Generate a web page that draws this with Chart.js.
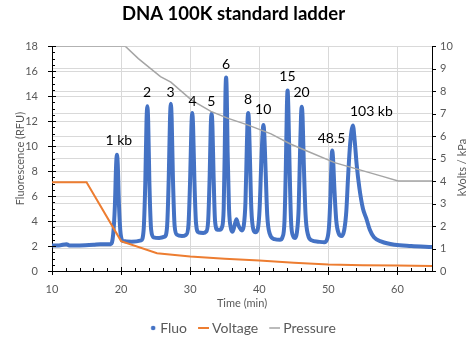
<!DOCTYPE html>
<html><head><meta charset="utf-8">
<script src="https://cdn.jsdelivr.net/npm/chart.js@4"></script>
<style>html,body{margin:0;padding:0;background:#fff}#wrap{width:467px;height:341px}</style>
</head><body><div id="wrap"><canvas id="c" width="467" height="341"></canvas></div>
<script>
// ---- data ----
const fluoTime = [10,11,12.1,12.5,14,16,17,18,
  18.5,18.85,19.1,19.28,19.4,19.52,19.7,19.95,20.3,21.5,
  22.9,23.25,23.5,23.68,23.8,23.92,24.1,24.35,24.7,25.5,
  26.3,26.65,26.9,27.08,27.2,27.32,27.5,27.75,28.1,28.8,
  29.4,29.75,30.0,30.18,30.3,30.42,30.6,30.85,31.2,31.9,
  32.3,32.6,32.83,32.98,33.1,33.22,33.38,33.6,33.95,34.3,
  34.6,34.85,35.0,35.1,35.2,35.3,35.42,35.62,35.9,36.15,36.45,36.7,36.95,37.5,
  37.75,38.0,38.18,38.3,38.4,38.5,38.65,38.85,39.15,39.45,
  39.8,40.05,40.28,40.48,40.6,40.72,40.92,41.15,41.5,42.2,43.0,
  43.35,43.65,43.85,44.0,44.1,44.2,44.38,44.6,44.9,45.2,
  45.45,45.7,45.9,46.05,46.15,46.27,46.45,46.7,47.05,47.6,48.5,49.4,
  49.85,50.1,50.3,50.45,50.55,50.68,50.88,51.15,51.5,51.9,
  52.3,52.6,52.85,53.1,53.35,53.55,53.8,54.1,54.5,55.0,55.5,56.0,56.6,57.7,59.6,62,65];
const fluoValue = [2.05,2.05,2.15,2.05,2.05,2.1,2.15,2.15,
  2.15,2.9,5.2,8.5,9.3,8.5,5.2,2.9,2.4,2.35,
  2.45,3.2,7.0,12.0,13.2,12.0,7.0,3.3,2.7,2.65,
  2.75,3.5,7.5,12.2,13.4,12.2,7.5,3.6,2.9,2.8,
  2.9,3.7,7.5,11.6,12.65,11.6,7.5,3.8,3.1,3.05,
  3.15,4.0,7.8,11.6,12.6,11.6,7.8,4.0,3.3,3.3,
  3.5,5.0,9.5,14.0,15.5,14.0,9.5,5.0,3.4,3.15,3.7,4.15,3.7,3.25,
  3.6,5.5,9.5,12.0,12.65,12.0,9.0,5.0,3.3,3.1,
  3.4,5.0,8.5,11.0,11.7,11.0,8.0,4.5,3.0,2.55,2.5,
  2.7,4.0,8.5,13.2,14.45,13.2,8.5,4.0,2.8,2.65,
  3.1,5.0,9.5,12.5,13.15,12.3,8.5,4.5,2.9,2.45,2.35,2.3,
  2.6,3.6,6.0,8.8,9.65,9.0,6.5,4.0,3.0,2.8,
  3.3,4.8,7.5,9.8,11.2,11.65,10.5,8.5,6.6,5.0,4.2,3.3,2.7,2.35,2.1,2.0,1.92];
const voltTime  = [10,15,20,25.2,30,35,40,45,50,55,60,65];
const voltValue = [3.95,3.95,1.33,0.79,0.64,0.55,0.47,0.37,0.29,0.26,0.24,0.22];
const presTime  = [10,20.6,22.5,25.7,27.2,30.2,33,35.4,38.3,41.7,44.5,47.5,50.9,54.3,57.7,60.1,65];
const presValue = [10,10,9.45,8.65,8.4,7.6,7.1,6.8,6.5,6.1,5.65,5.26,4.82,4.52,4.22,4.0,4.0];
const peakLabels = ['1 kb','2','3','4','5','6','8','10','15','20','48.5','103 kb'];
const labelTime  = [19.67,23.76,27.15,30.35,33.07,35.19,38.39,40.57,44.08,46.12,50.45,56.22];
const labelLevel = [10.44,14.27,14.27,13.6,13.6,16.55,13.73,12.93,15.56,14.27,10.58,12.8];
const xTicks  = [10,20,30,40,50,60];
const yTicks  = [0,2,4,6,8,10,12,14,16,18];
const y2Ticks = [0,1,2,3,4,5,6,7,8,9,10];

// ---- chart ----
const TXT = '#595959', GRID = '#d9d9d9';
Chart.defaults.font.family = 'Lato, "Open Sans", sans-serif';
const toXY = (t, v) => t.map((x, i) => ({x: x, y: v[i]}));

function icon(kind, color, lw) {
  const c = document.createElement('canvas'); c.width = 18; c.height = 6;
  const g = c.getContext('2d'); g.fillStyle = color;
  if (kind === 'dot') { g.beginPath(); g.arc(14, 3, 2.3, 0, Math.PI * 2); g.fill(); }
  else { g.fillRect(7, 3 - lw / 2, 11, lw); }
  return c;
}

const legendShift = {
  id: 'legendShift',
  afterLayout(chart) {
    const L = chart.legend; if (!L) return;
    L.left += 6; L.right += 6; L.top += 4; L.bottom += 4;
  }
};

const tickMarks = {
  id: 'tickMarks',
  afterDraw(chart) {
    const {ctx, chartArea: a} = chart; const {x, y, y2} = chart.scales;
    ctx.save(); ctx.strokeStyle = '#000'; ctx.lineWidth = 1; ctx.beginPath();
    for (let v = 0; v <= 18.001; v += 0.5) {
      const p = Math.round(y.getPixelForValue(v)) + 0.5; const major = Math.abs(v % 2) < 1e-6;
      ctx.moveTo(a.left - (major ? 4 : 0), p); ctx.lineTo(a.left + (major ? 4 : 3), p);
    }
    for (let v = 10; v <= 64.001; v += 2) {
      const p = Math.round(x.getPixelForValue(v)) + 0.5; const major = Math.abs(v % 10) < 1e-6;
      ctx.moveTo(p, a.bottom + (major ? 4 : 0)); ctx.lineTo(p, a.bottom - (major ? 4 : 3));
    }
    for (let v = 0; v <= 10; v += 1) {
      const p = Math.round(y2.getPixelForValue(v)) + 0.5;
      ctx.moveTo(a.right, p); ctx.lineTo(a.right + 4, p);
    }
    ctx.stroke();
    // secondary axis title, reading bottom to top
    ctx.fillStyle = TXT; ctx.font = '11px Lato, "Open Sans", sans-serif';
    ctx.textAlign = 'center'; ctx.textBaseline = 'middle';
    ctx.translate(a.right + 30, (a.top + a.bottom) / 2 + 9); ctx.rotate(-Math.PI / 2);
    ctx.fillText('kVolts / kPa', 0, 0);
    ctx.restore();
  }
};

const peakText = {
  id: 'peakText',
  afterDatasetsDraw(chart) {
    const {ctx} = chart; const {x, y} = chart.scales;
    ctx.save(); ctx.fillStyle = '#000'; ctx.font = '14px Lato, "Open Sans", sans-serif';
    ctx.textAlign = 'center'; ctx.textBaseline = 'middle';
    peakLabels.forEach((s, i) => ctx.fillText(s, x.getPixelForValue(labelTime[i]), y.getPixelForValue(labelLevel[i])));
    ctx.restore();
  }
};

const datasets = [
  {label: 'Fluo', data: toXY(fluoTime, fluoValue), yAxisID: 'y', borderColor: '#4472C4', backgroundColor: '#4472C4',
   borderWidth: 4, pointRadius: 0, cubicInterpolationMode: 'monotone', order: 3},
  {label: 'Voltage', data: toXY(voltTime, voltValue), yAxisID: 'y2', borderColor: '#ED7D31', backgroundColor: '#ED7D31',
   borderWidth: 2, pointRadius: 0, tension: 0, order: 2},
  {label: 'Pressure', data: toXY(presTime, presValue), yAxisID: 'y2', borderColor: '#A5A5A5', backgroundColor: '#A5A5A5',
   borderWidth: 1.5, pointRadius: 0, tension: 0, order: 1}
];
const icons = [icon('dot', '#4472C4'), icon('line', '#ED7D31', 2), icon('line', '#A5A5A5', 1.5)];

new Chart(document.getElementById('c'), {
  type: 'line',
  data: {datasets: datasets},
  options: {
    responsive: false, animation: false, devicePixelRatio: 1,
    layout: {padding: 0},
    scales: {
      x: {type: 'linear', min: 10, max: 65,
          afterBuildTicks: s => { s.ticks = xTicks.map(v => ({value: v})); },
          afterFit: s => { s.height = 38; },
          ticks: {color: TXT, font: {size: 11}, padding: 12, maxRotation: 0},
          grid: {color: GRID, drawTicks: false}, border: {color: '#000'},
          title: {display: true, text: 'Time (min)', color: TXT, font: {size: 11}, padding: {top: 0, bottom: -1}}},
      y: {position: 'left', min: 0, max: 18,
          afterBuildTicks: s => { s.ticks = yTicks.map(v => ({value: v})); },
          afterFit: s => { s.width = 52; },
          ticks: {color: TXT, font: {size: 11}, padding: 14},
          grid: {color: GRID, drawTicks: false}, border: {color: '#000'},
          title: {display: true, text: 'Fluorescence (RFU)', color: TXT, font: {size: 11}, padding: {top: 14, bottom: 0}}},
      y2: {position: 'right', min: 0, max: 10,
          afterBuildTicks: s => { s.ticks = y2Ticks.map(v => ({value: v})); },
          afterFit: s => { s.width = 35; },
          ticks: {color: TXT, font: {size: 11}, padding: 8},
          grid: {color: GRID, drawTicks: false}, border: {color: '#000'}}
    },
    plugins: {
      title: {display: true, text: 'DNA 100K standard ladder', color: '#000',
              font: {size: 18.5, weight: 'bold'}, padding: {top: 3, bottom: 21}},
      legend: {position: 'bottom',
        labels: {usePointStyle: true, pointStyleWidth: 10, padding: 8, color: TXT, font: {size: 14},
          generateLabels: chart => chart.data.datasets.map((ds, i) => ({
            text: ds.label, pointStyle: icons[i], fillStyle: ds.borderColor, strokeStyle: ds.borderColor,
            lineWidth: 0, hidden: false, datasetIndex: i, fontColor: TXT}))}},
      tooltip: {enabled: false}
    }
  },
  plugins: [legendShift, tickMarks, peakText]
});
</script></body></html>
